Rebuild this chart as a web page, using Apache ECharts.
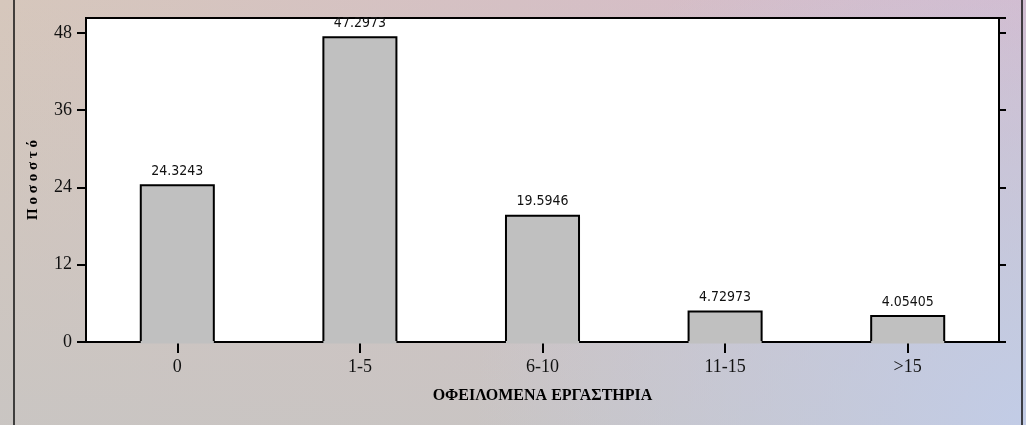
<!DOCTYPE html>
<html>
<head>
	<meta charset="utf-8" />
	<script src="https://cdn.jsdelivr.net/npm/echarts@6/dist/echarts.min.js"></script>
</head>
<body style="margin: 0">
	<div id="main" style="width: 1026px; height: 425px;"></div>
</body>
<script type="text/javascript">
	var categories = ['0', '1-5', '6-10', '11-15', '>15'];
	var percents = [24.3243, 47.2973, 19.5946, 4.72973, 4.05405];
	var yTicks = { min: 0, max: 50.3, interval: 12 };

	var serif = '"Liberation Serif", "Times New Roman", serif';
	var narrow = '"DejaVu Sans Condensed", "Liberation Sans Narrow", sans-serif';

	var myChart = echarts.init(document.getElementById('main'));

	function drawBar(params, api) {
		var v = api.value(1);
		var top = api.coord([api.value(0), v]);
		var base = api.coord([api.value(0), 0]);
		var w = api.size([1, 0])[0] * 0.4;
		var l = top[0] - w / 2, r = top[0] + w / 2;
		return {
			type: 'group',
			children: [
				{ type: 'rect', shape: { x: l, y: top[1], width: w, height: base[1] - top[1] + 1.5 }, style: { fill: '#c0c0c0' } },
				{ type: 'polyline', shape: { points: [[l, base[1] - 1], [l, top[1]], [r, top[1]], [r, base[1] - 1]] }, style: { stroke: '#000', lineWidth: 2, fill: null } },
				{ type: 'text', x: top[0], y: top[1] - 7, style: { text: String(percents[params.dataIndex]), align: 'center', verticalAlign: 'bottom', font: '14px ' + narrow, fill: '#111' } }
			]
		};
	}

	option = {
		backgroundColor: new echarts.graphic.LinearGradient(0, 0, 1, 0, [
			{ offset: 0, color: '#d6c7bc' },
			{ offset: 0.5, color: '#d5c0c4' },
			{ offset: 1, color: '#d6b9cc' }
		]),
		graphic: [
			{ type: 'rect', z: -20, silent: true, shape: { x: 0, y: 0, width: 1026, height: 425 },
				style: { fill: new echarts.graphic.LinearGradient(0, 0, 0, 1, [
					{ offset: 0, color: 'rgba(200,197,195,0)' },
					{ offset: 1, color: 'rgba(200,197,195,0.9)' }
				]) } },
			{ type: 'rect', z: -19, silent: true, shape: { x: 0, y: 0, width: 1026, height: 425 },
				style: { fill: new echarts.graphic.RadialGradient(1, 1, 1.3, [
					{ offset: 0, color: 'rgba(194,204,230,1)' },
					{ offset: 1, color: 'rgba(194,204,230,0)' }
				]) } },
			{ type: 'line', shape: { x1: 14, y1: 0, x2: 14, y2: 425 }, style: { stroke: '#111', lineWidth: 1.5 } },
			{ type: 'line', shape: { x1: 1022, y1: 0, x2: 1022, y2: 425 }, style: { stroke: '#111', lineWidth: 1.5 } }
		],
		grid: {
			left: 86, right: 27, top: 18, bottom: 83,
			show: true, backgroundColor: '#fff', borderColor: '#000', borderWidth: 2
		},
		xAxis: [
			{
				type: 'category', data: categories, position: 'bottom',
				axisLine: { show: false },
				axisTick: { show: true, alignWithLabel: true, length: 11, lineStyle: { color: '#000', width: 2 } },
				axisLabel: { margin: 16, color: '#111', fontFamily: serif, fontSize: 18 },
				name: 'ΟΦΕΙΛΟΜΕΝΑ ΕΡΓΑΣΤΗΡΙΑ', nameLocation: 'middle', nameGap: 46,
				nameTextStyle: { color: '#000', fontFamily: serif, fontWeight: 'bold', fontSize: 16 }
			},
			{
				type: 'category', data: categories, position: 'top',
				axisLine: { show: true, lineStyle: { color: '#000', width: 2 } },
				axisTick: { show: true, alignWithLabel: true, length: 12, lineStyle: { color: '#000', width: 2 } },
				axisLabel: { show: false }
			}
		],
		yAxis: [
			{
				type: 'value', position: 'left', min: yTicks.min, max: yTicks.max, interval: yTicks.interval,
				splitLine: { show: false },
				axisLine: { show: false },
				axisTick: { show: true, length: 9, lineStyle: { color: '#000', width: 2 } },
				axisLabel: { margin: 14, color: '#111', fontFamily: serif, fontSize: 18, showMaxLabel: false },
				name: 'Π ο σ ο σ τ ό', nameLocation: 'middle', nameGap: 45,
				nameTextStyle: { color: '#000', fontFamily: serif, fontWeight: 'bold', fontSize: 15 }
			},
			{
				type: 'value', position: 'right', min: yTicks.min, max: yTicks.max, interval: yTicks.interval,
				splitLine: { show: false },
				axisLine: { show: false },
				axisTick: { show: true, length: 7, lineStyle: { color: '#000', width: 2 } },
				axisLabel: { show: false }
			}
		],
		series: [{
			type: 'custom',
			renderItem: drawBar,
			data: percents.map(function (v, i) { return [i, v]; }),
			z: 5
		}]
	};

	myChart.setOption(option);
</script>
</html>
